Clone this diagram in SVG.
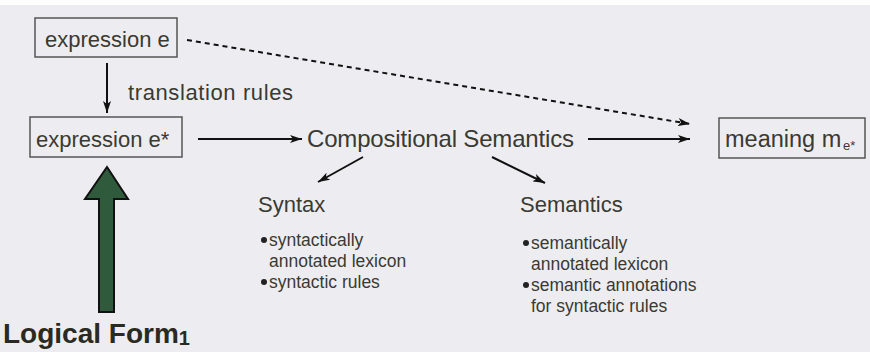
<svg xmlns="http://www.w3.org/2000/svg" width="870" height="352" viewBox="0 0 870 352">
<defs>
<marker id="ah" viewBox="0 0 12 8" refX="12" refY="4" markerWidth="12" markerHeight="8" markerUnits="userSpaceOnUse" orient="auto">
<path d="M0,0 L12,4 L0,8 L3,4 z" fill="#111"/>
</marker>
<style>
.t{font-family:"Liberation Sans",Arial,sans-serif;fill:#3a3a32}
.b{font-size:17.5px}
.box{fill:none;stroke:#555;stroke-width:1.5}
.ln{stroke:#111;stroke-width:2;fill:none}
.dot{fill:#222}
</style>
</defs>
<rect x="0" y="0" width="870" height="352" fill="#ffffff"/>
<rect x="0" y="5" width="870" height="347" fill="#ededf1"/>
<g id="connectors">
<line class="ln" x1="107" y1="63" x2="107" y2="113" marker-end="url(#ah)"/>
<line class="ln" x1="198" y1="139" x2="302" y2="139" marker-end="url(#ah)"/>
<line class="ln" x1="588" y1="139" x2="690" y2="139" marker-end="url(#ah)"/>
<line class="ln" x1="187" y1="40" x2="690" y2="124" stroke-dasharray="5,4" stroke-width="2.5" marker-end="url(#ah)"/>
<line class="ln" x1="363" y1="157" x2="318" y2="182" marker-end="url(#ah)"/>
<line class="ln" x1="492" y1="157" x2="545" y2="183" marker-end="url(#ah)"/>
<text class="t" x="128" y="100" font-size="22" textLength="165">translation rules</text>
</g>
<g id="expression-e">
<rect class="box" x="35" y="18" width="142" height="39"/>
<text class="t" x="45" y="47" font-size="22">expression e</text>
</g>
<g id="expression-e-star">
<rect class="box" x="30" y="117" width="152" height="40"/>
<text class="t" x="36" y="147" font-size="22">expression e*</text>
</g>
<g id="compositional-semantics">
<text class="t" x="307" y="147" font-size="24" textLength="267">Compositional Semantics</text>
</g>
<g id="meaning">
<rect class="box" x="719" y="118" width="146" height="40"/>
<text class="t" x="725" y="147" font-size="23.5">meaning m</text>
<text class="t" x="843" y="150" font-size="13">e*</text>
</g>
<g id="syntax">
<text class="t" x="258" y="212" font-size="22">Syntax</text>
<circle class="dot" cx="264" cy="240" r="3"/>
<text class="t b" x="269" y="246">syntactically</text>
<text class="t b" x="269" y="267">annotated lexicon</text>
<circle class="dot" cx="264" cy="282" r="3"/>
<text class="t b" x="269" y="288">syntactic rules</text>
</g>
<g id="semantics">
<text class="t" x="520" y="212" font-size="22">Semantics</text>
<circle class="dot" cx="526" cy="243" r="3"/>
<text class="t b" x="531" y="249">semantically</text>
<text class="t b" x="531" y="270">annotated lexicon</text>
<circle class="dot" cx="526" cy="285" r="3"/>
<text class="t b" x="531" y="291">semantic annotations</text>
<text class="t b" x="531" y="312">for syntactic rules</text>
</g>
<g id="logical-form">
<polygon points="107,167 128,199 114,199 114,312 99,312 99,199 85,199" fill="#2f5a3c" stroke="#111" stroke-width="2"/>
<text x="3" y="343" font-family="Liberation Sans,Arial,sans-serif" font-weight="bold" font-size="28" fill="#2a2a22">Logical Form<tspan font-size="20" dy="2">1</tspan></text>
</g>
</svg>
